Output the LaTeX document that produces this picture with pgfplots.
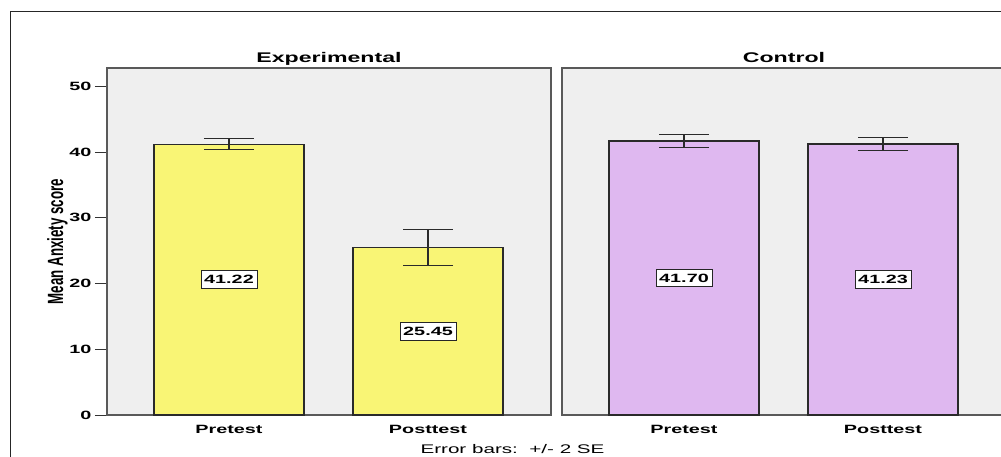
\documentclass[border=0pt]{standalone}
\usepackage{fontspec}
\setmainfont{Liberation Sans}
\newfontfamily\wide[FakeStretch=1.65]{Liberation Sans}
\newfontfamily\narrow[FakeStretch=0.606]{Liberation Sans}
\usepackage{pgfplots}
\usepackage{pgfplotstable}
\pgfplotsset{compat=1.18}
\definecolor{barY}{HTML}{F9F575}
\definecolor{barP}{HTML}{DFB8F0}
\definecolor{panelbg}{HTML}{EFEFEF}
\definecolor{edge}{HTML}{2A2A2A}

\pgfplotstableread{
x y e h lab
0 41.22 0.84 20.61 41.22
1 25.45 2.74 12.725 25.45
}\exptab
\pgfplotstableread{
x y e h lab
0 41.70 0.94 20.85 41.70
1 41.23 0.99 20.615 41.23
}\contab

\pgfplotsset{
  panel/.style={
    scale only axis, width=444pt, height=347pt,
    xmin=-0.613, xmax=1.618, ymin=0, ymax=52.8,
    clip=false,
    axis background/.style={fill=panelbg},
    axis line style={draw=black!65, line width=1.2pt},
    xtick={0,1}, xticklabels={Pretest,Posttest},
    xtick style={draw=none},
    minor xtick={0,1},
    minor tick length=5pt,
    minor tick style={draw=black!80, line width=1pt},
    major tick length=12pt,
    tick align=outside, tick pos=left,
    ytick={0,10,20,30,40,50},
    ytick style={draw=black!80, line width=1pt},
    /pgf/number format/assume math mode=true,
    yticklabel style={font=\wide\bfseries\fontsize{12}{14}\selectfont},
    xticklabel style={font=\wide\bfseries\fontsize{12}{14}\selectfont, yshift=5pt},
    title style={font=\wide\bfseries\fontsize{14}{16}\selectfont, at={(0.5,1)}, anchor=base, yshift=-1pt},
  },
  bars/.style={ybar, bar width=150pt, fill=#1, draw=edge, line width=1.2pt,
    error bars/.cd, y dir=both, y explicit,
    error bar style={line width=1.4pt, draw=edge},
    error mark options={rotate=90, line width=1.2pt, mark size=25pt, draw=edge}},
  labels/.style={only marks, mark=*, mark options={draw=none, fill=none},
    point meta=explicit symbolic, nodes near coords,
    every node near coord/.style={anchor=center, fill=white, draw=black!85, line width=0.9pt,
      inner xsep=3.2pt, inner ysep=4.5pt, text height=8.6pt, text depth=0pt,
      font=\wide\bfseries\fontsize{12}{14}\selectfont}},
}

\begin{document}
\begin{tikzpicture}
\useasboundingbox (0,0) rectangle (1001pt,-457pt);
\clip (0,0) rectangle (1001pt,-457pt);
\draw[black!85, line width=1pt] (10pt,-470pt) -- (10pt,-12pt) -- (1010pt,-12pt);

\begin{axis}[panel, at={(107pt,-415pt)}, anchor=south west, title={Experimental}]
  \addplot[bars=barY] table[x=x, y=y, y error=e] {\exptab};
  \addplot[labels] table[x=x, y=h, meta=lab] {\exptab};
\end{axis}

\begin{axis}[panel, at={(562pt,-415pt)}, anchor=south west, title={Control}, ytick=\empty]
  \addplot[bars=barP] table[x=x, y=y, y error=e] {\contab};
  \addplot[labels] table[x=x, y=h, meta=lab] {\contab};
\end{axis}

\node[rotate=90, anchor=base, font=\narrow\bfseries\fontsize{22}{24}\selectfont] at (63pt,-241.5pt) {Mean Anxiety score};
\node[anchor=base, font=\wide\fontsize{12.5}{14}\selectfont] at (512.5pt,-453pt) {Error bars:\ \ +/- 2 SE};
\end{tikzpicture}
\end{document}
